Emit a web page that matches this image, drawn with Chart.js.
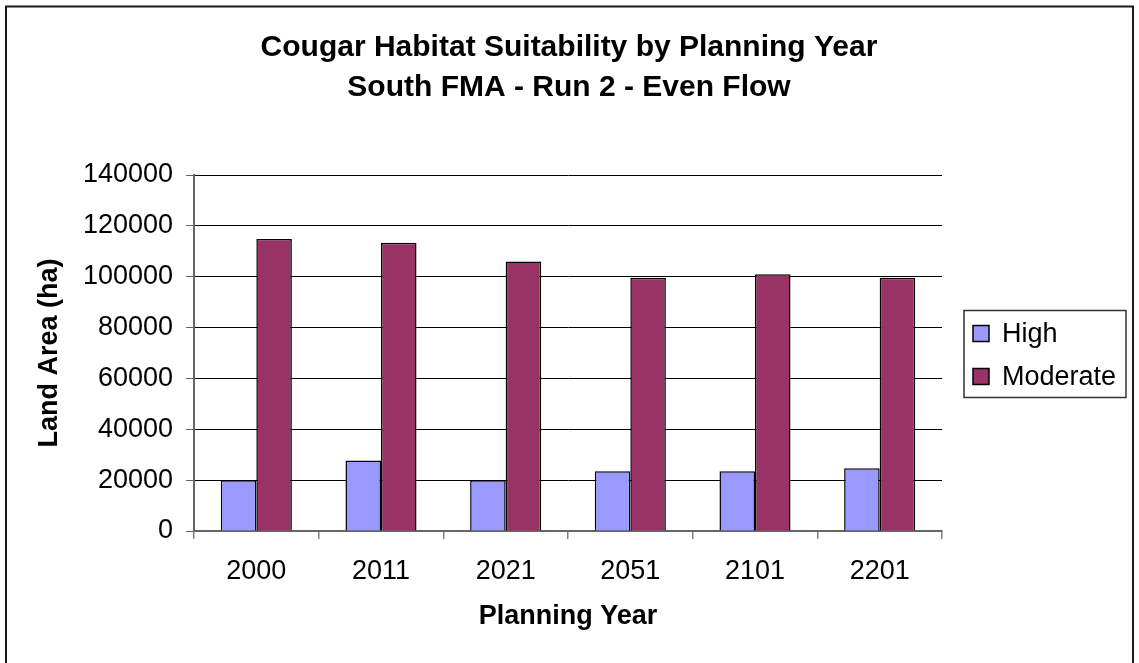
<!DOCTYPE html>
<html lang="en">
  <head>
    <meta charset="UTF-8" />
    <title>Cougar Habitat Suitability</title>
    <style>
      body {
        margin: 0;
        background-color: #ffffff;
        overflow: hidden;
      }
      canvas {
        display: block;
      }
    </style>
  </head>
  <body>
    <canvas id="habitatChart" width="1139" height="663"></canvas>

    <script src="https://cdn.jsdelivr.net/npm/chart.js"></script>
    <script>
      const years = ["2000", "2011", "2021", "2051", "2101", "2201"];
      const highArea = [20000, 27700, 20000, 23500, 23500, 24700];
      const moderateArea = [114800, 113400, 106000, 99600, 101000, 99600];
      const seriesNames = ["High", "Moderate"];
      const titleLines = [
        "Cougar Habitat Suitability by Planning Year",
        "South FMA - Run 2 - Even Flow",
      ];

      const FONT = "'Liberation Sans', Arial, sans-serif";

      // white page, frame (bottom edge runs off the canvas) and the title,
      // which is centred on the whole page rather than the plot
      const framePlugin = {
        id: "frame",
        beforeDraw(chart) {
          const ctx = chart.ctx;
          ctx.save();
          ctx.fillStyle = "#ffffff";
          ctx.fillRect(0, 0, chart.width, chart.height);
          ctx.restore();
        },
        afterDraw(chart) {
          const ctx = chart.ctx;
          ctx.save();
          ctx.strokeStyle = "#1a1a1a";
          ctx.lineWidth = 2;
          ctx.strokeRect(6, 6.5, 1127, 700);
          ctx.fillStyle = "#000000";
          ctx.font = "bold 30px " + FONT;
          ctx.textAlign = "center";
          ctx.textBaseline = "middle";
          titleLines.forEach((line, i) => {
            ctx.fillText(line, 569, 48 + i * 40);
          });
          ctx.restore();
        },
      };

      // boxed legend to the right of the plot
      const boxLegendPlugin = {
        id: "boxLegend",
        afterDraw(chart) {
          const ctx = chart.ctx;
          const area = chart.chartArea;
          const x = area.right + 22;
          const w = 162;
          const h = 87;
          const y = (area.top + area.bottom) / 2 - h / 2 + 1;
          ctx.save();
          ctx.strokeStyle = "#333333";
          ctx.lineWidth = 1.5;
          ctx.strokeRect(x, y, w, h);
          ctx.font = "27px " + FONT;
          ctx.textBaseline = "middle";
          chart.data.datasets.forEach((ds, i) => {
            const cy = y + 23 + i * 43;
            ctx.fillStyle = ds.backgroundColor;
            ctx.fillRect(x + 9, cy - 8, 16, 16);
            ctx.strokeStyle = "#000000";
            ctx.lineWidth = 1.5;
            ctx.strokeRect(x + 9, cy - 8, 16, 16);
            ctx.fillStyle = "#000000";
            ctx.fillText(ds.label, x + 38, cy + 1);
          });
          ctx.restore();
        },
      };

      function renderChart() {
        const ctx = document.getElementById("habitatChart").getContext("2d");
        new Chart(ctx, {
          type: "bar",
          data: {
            labels: years,
            datasets: [
              {
                label: seriesNames[0],
                data: highArea,
                backgroundColor: "#9999ff",
                borderColor: "#000000",
                borderWidth: 1.5,
              },
              {
                label: seriesNames[1],
                data: moderateArea,
                backgroundColor: "#993366",
                borderColor: "#000000",
                borderWidth: 1.5,
              },
            ],
          },
          options: {
            responsive: false,
            animation: false,
            layout: {
              padding: { left: 0, right: 197, top: 175, bottom: 22 },
            },
            datasets: {
              bar: {
                barPercentage: 1,
                categoryPercentage: 0.57,
              },
            },
            scales: {
              x: {
                afterFit: (scale) => {
                  scale.height = 110;
                },
                grid: {
                  drawOnChartArea: false,
                  drawTicks: true,
                  tickLength: 8,
                  color: "#808080",
                  lineWidth: 1.5,
                },
                border: { color: "#666666", width: 2 },
                ticks: {
                  color: "#000000",
                  padding: 16,
                  font: { family: FONT, size: 27 },
                },
                title: {
                  display: true,
                  text: "Planning Year",
                  color: "#000000",
                  padding: { top: 0, bottom: 8 },
                  font: { family: FONT, size: 27, weight: "bold" },
                },
              },
              y: {
                min: 0,
                max: 140000,
                afterFit: (scale) => {
                  scale.width = 194;
                },
                grid: {
                  color: "#000000",
                  lineWidth: 1,
                  tickLength: 8,
                  tickColor: "#666666",
                },
                border: { color: "#666666", width: 2 },
                ticks: {
                  stepSize: 20000,
                  color: "#000000",
                  padding: 13,
                  font: { family: FONT, size: 27 },
                  callback: (value) => String(value),
                },
                title: {
                  display: true,
                  text: "Land Area (ha)",
                  color: "#000000",
                  padding: { top: 33, bottom: 0 },
                  font: { family: FONT, size: 27, weight: "bold" },
                },
              },
            },
            plugins: {
              legend: { display: false },
              tooltip: { enabled: false },
              title: { display: false },
            },
          },
          plugins: [framePlugin, boxLegendPlugin],
        });
      }

      renderChart();
    </script>
  </body>
</html>
